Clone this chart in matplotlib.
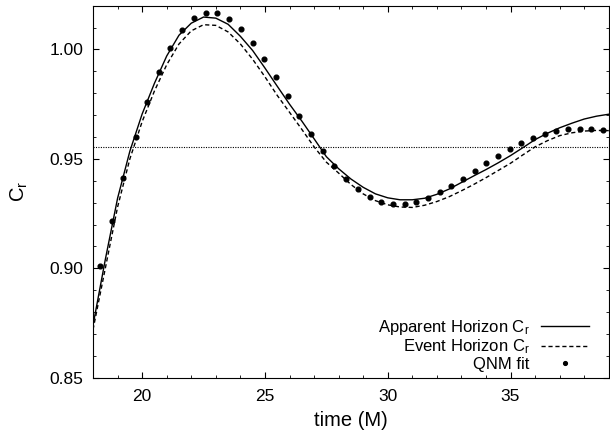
import numpy as np
import matplotlib
matplotlib.use('Agg')
import matplotlib.pyplot as plt
from matplotlib.ticker import MultipleLocator

plt.rcParams['font.family'] = ['Liberation Sans', 'DejaVu Sans']
plt.rcParams['mathtext.default'] = 'regular'

# apparent horizon C_r (solid)
t_ah = [18.0, 18.5, 19.0, 19.5, 20.0, 20.5, 21.0, 21.5, 22.0, 22.5, 23.0, 23.5,
        24.0, 24.5, 25.0, 25.5, 26.0, 26.5, 27.0, 27.5, 28.0, 28.5, 29.0, 29.5,
        30.0, 30.5, 31.0, 31.5, 32.0, 32.5, 33.0, 33.5, 34.0, 34.5, 35.0, 35.5,
        36.0, 36.5, 37.0, 37.5, 38.0, 38.5, 39.0]
cr_ah = [0.874, 0.904, 0.932, 0.9535, 0.9705, 0.9845, 0.997, 1.0065, 1.012, 1.0148,
         1.0143, 1.0115, 1.006, 0.9995, 0.9915, 0.9832, 0.975, 0.9673, 0.9592, 0.951,
         0.9455, 0.9408, 0.937, 0.934, 0.9322, 0.9313, 0.9313, 0.932, 0.9338, 0.9362,
         0.9392, 0.9422, 0.9451, 0.9482, 0.9515, 0.9551, 0.9588, 0.9617, 0.9642,
         0.9663, 0.9682, 0.9695, 0.9704]

# event horizon C_r (dashed)
t_eh = t_ah
cr_eh = [0.872, 0.900, 0.928, 0.950, 0.967, 0.981, 0.993, 1.0025, 1.0085, 1.0113,
         1.011, 1.008, 1.0025, 0.9955, 0.9875, 0.979, 0.9713, 0.9635, 0.9555, 0.9485,
         0.9435, 0.9383, 0.934, 0.9309, 0.929, 0.928, 0.9278, 0.9288, 0.9305, 0.9327,
         0.9354, 0.9383, 0.9414, 0.9447, 0.948, 0.9518, 0.9555, 0.9583, 0.9606,
         0.9619, 0.9627, 0.963, 0.9629]

# QNM fit (dots)
t_qnm = [18.30, 18.79, 19.24, 19.73, 20.20, 20.68, 21.15, 21.64, 22.11, 22.59,
         23.06, 23.55, 24.03, 24.50, 24.98, 25.45, 25.93, 26.40, 26.88, 27.35,
         27.83, 28.32, 28.79, 29.27, 29.74, 30.22, 30.69, 31.17, 31.64, 32.12,
         32.59, 33.07, 33.54, 34.02, 34.49, 34.97, 35.44, 35.92, 36.39, 36.87,
         37.34, 37.82, 38.29, 38.77]
cr_qnm = [0.9012, 0.9218, 0.9414, 0.9599, 0.9759, 0.9899, 1.0008, 1.0089, 1.0143, 1.0165,
          1.0165, 1.0138, 1.0092, 1.0030, 0.9955, 0.9873, 0.9786, 0.9697, 0.9614, 0.9537,
          0.9469, 0.9407, 0.9361, 0.9325, 0.9303, 0.9293, 0.9293, 0.9303, 0.9321, 0.9347,
          0.9376, 0.9410, 0.9446, 0.9481, 0.9513, 0.9544, 0.9571, 0.9594, 0.9614, 0.9626,
          0.9635, 0.9638, 0.9638, 0.9633]

cr_ref = 0.9556

fig = plt.figure(figsize=(6.1, 4.36), dpi=100)
ax = fig.add_axes([0.1525, 0.1337, 0.8455, 0.8533])

ax.axhline(cr_ref, color='k', lw=0.8, ls=(0, (1, 1.2)))
ax.plot(t_ah, cr_ah, color='k', lw=1.0, label='Apparent Horizon C$_r$')
ax.plot(t_eh, cr_eh, color='k', lw=1.0, ls=(0, (3, 2)), label='Event Horizon C$_r$')
ax.plot(t_qnm, cr_qnm, 'o', color='k', ms=3.4, label='QNM fit')

ax.set_xlim(18, 39)
ax.set_ylim(0.85, 1.02)
ax.xaxis.set_major_locator(MultipleLocator(5))
ax.xaxis.set_minor_locator(MultipleLocator(1))
ax.yaxis.set_major_locator(MultipleLocator(0.05))
ax.yaxis.set_minor_locator(MultipleLocator(0.01))
ax.yaxis.set_major_formatter(plt.FormatStrFormatter('%.2f'))
ax.tick_params(which='both', direction='in', top=True, right=True, labelsize=12.5)
ax.tick_params(axis='x', pad=8)
ax.tick_params(axis='y', pad=7)
ax.tick_params(which='major', length=4)
ax.tick_params(which='minor', length=2)

ax.set_xlabel('time (M)', fontsize=14.5, labelpad=5)
ax.set_ylabel('C$_r$', fontsize=14.5, labelpad=14)

ax.legend(loc='lower right', bbox_to_anchor=(589 / 610, 1 - 372 / 436),
          bbox_transform=fig.transFigure, frameon=False, markerfirst=False,
          fontsize=12, handlelength=2.9, handletextpad=0.65, labelspacing=0.05,
          borderpad=0, borderaxespad=0, numpoints=1, markerscale=0.8)

fig.savefig('out.png', dpi=100)
